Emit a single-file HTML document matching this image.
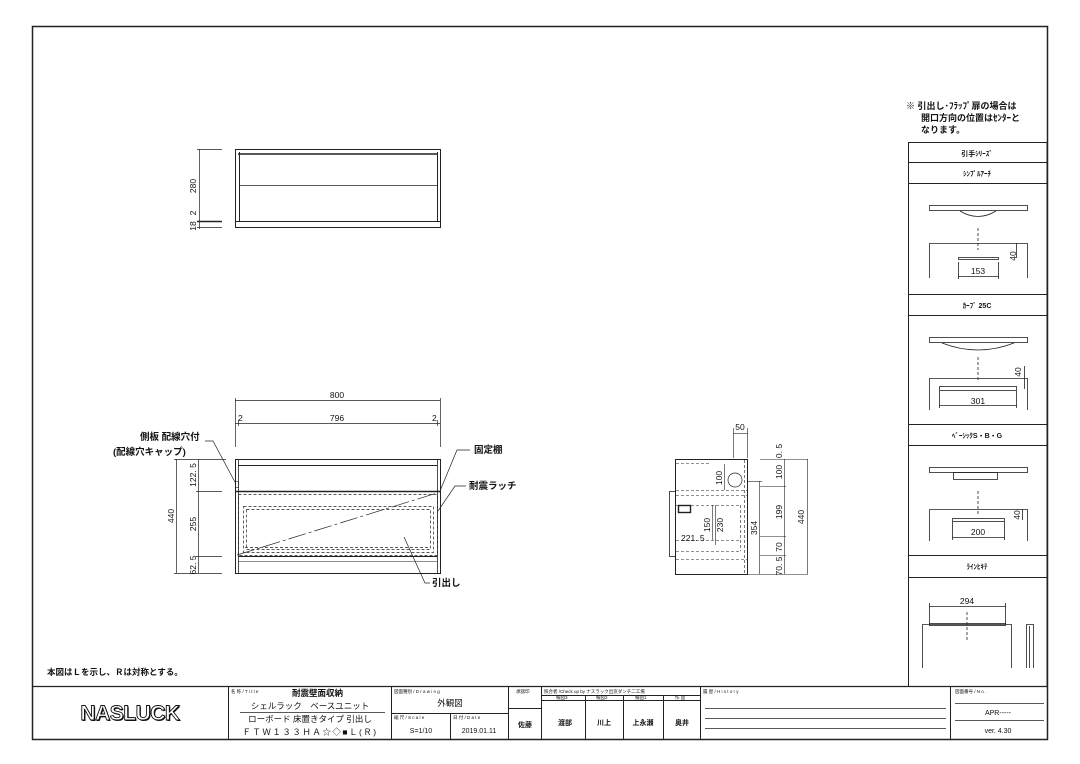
<!DOCTYPE html>
<html><head><meta charset="utf-8"><style>
body{margin:0;background:#fff}
svg{display:block}
text{font-family:"Liberation Sans","Noto Sans CJK JP",sans-serif;fill:#111}
.b{font-weight:bold}
</style></head><body>
<svg width="1080" height="764" viewBox="0 0 1080 764" xmlns="http://www.w3.org/2000/svg">
<g fill="none" stroke="#222" stroke-width="1">
<rect x="32.5" y="26.5" width="1015" height="713" stroke-width="1.5"/>
<line x1="32" y1="686.5" x2="1047" y2="686.5" stroke-width="1.3"/>
<line x1="228.5" y1="686" x2="228.5" y2="740"/>
<line x1="391.5" y1="686" x2="391.5" y2="740"/>
<line x1="508.5" y1="686" x2="508.5" y2="740"/>
<line x1="541.5" y1="686" x2="541.5" y2="740"/>
<line x1="700.5" y1="686" x2="700.5" y2="740"/>
<line x1="950.5" y1="686" x2="950.5" y2="740"/>
<line x1="240" y1="712.5" x2="385" y2="712.5" stroke-width="0.8"/>
<line x1="391" y1="713.5" x2="508" y2="713.5"/>
<line x1="450.5" y1="713" x2="450.5" y2="740"/>
<line x1="508" y1="708.5" x2="541" y2="708.5"/>
<line x1="541" y1="695.5" x2="700" y2="695.5"/>
<line x1="541" y1="700.5" x2="700" y2="700.5"/>
<line x1="585.5" y1="695" x2="585.5" y2="740"/>
<line x1="623.5" y1="695" x2="623.5" y2="740"/>
<line x1="663.5" y1="695" x2="663.5" y2="740"/>
<line x1="705" y1="708.5" x2="946" y2="708.5" stroke-width="0.7"/>
<line x1="705" y1="718.5" x2="946" y2="718.5" stroke-width="0.7"/>
<line x1="705" y1="728.5" x2="946" y2="728.5" stroke-width="0.7"/>
<line x1="955" y1="703.5" x2="1044" y2="703.5" stroke-width="0.7"/>
<line x1="955" y1="720.5" x2="1044" y2="720.5" stroke-width="0.7"/>

<rect x="908.5" y="142.5" width="138.5" height="544"/>
<line x1="908" y1="162.5" x2="1047" y2="162.5"/>
<line x1="908" y1="183.5" x2="1047" y2="183.5"/>
<line x1="908" y1="294.5" x2="1047" y2="294.5"/>
<line x1="908" y1="315.5" x2="1047" y2="315.5"/>
<line x1="908" y1="424.5" x2="1047" y2="424.5"/>
<line x1="908" y1="445.5" x2="1047" y2="445.5"/>
<line x1="908" y1="555.5" x2="1047" y2="555.5"/>
<line x1="908" y1="577.5" x2="1047" y2="577.5"/>
<g stroke-width="0.8">
<rect x="929.5" y="205.5" width="98" height="5"/>
<path d="M960 211 Q978 222 996 211"/>
<line x1="978" y1="228" x2="978" y2="250" stroke-dasharray="3 2"/>
<path d="M929.5 278 V243.5 H1027.5 V278"/>
<rect x="958.5" y="257.5" width="40" height="2"/>
<line x1="958" y1="276.5" x2="999" y2="276.5"/><line x1="958.5" y1="262" x2="958.5" y2="279"/><line x1="998.5" y1="262" x2="998.5" y2="279"/>
<line x1="1016.5" y1="243" x2="1016.5" y2="258"/>
<rect x="929.5" y="337.5" width="98" height="5"/>
<path d="M942 343 Q978 357 1014 343"/>
<line x1="978" y1="357" x2="978" y2="380" stroke-dasharray="3 2"/>
<path d="M929.5 410 V378.5 H1027.5 V410"/>
<rect x="939.5" y="386.5" width="77" height="4"/>
<line x1="939" y1="405.5" x2="1017" y2="405.5"/><line x1="939.5" y1="391" x2="939.5" y2="408"/><line x1="1016.5" y1="391" x2="1016.5" y2="408"/>
<line x1="1024.5" y1="366" x2="1024.5" y2="389"/>
<rect x="929.5" y="467.5" width="98" height="5"/>
<rect x="953.5" y="472.5" width="44" height="7"/>
<line x1="978" y1="491" x2="978" y2="515" stroke-dasharray="3 2"/>
<path d="M929.5 541 V509.5 H1027.5 V541"/>
<rect x="952.5" y="518.5" width="52" height="3"/>
<line x1="952" y1="537.5" x2="1005" y2="537.5"/><line x1="952.5" y1="522" x2="952.5" y2="540"/><line x1="1004.5" y1="522" x2="1004.5" y2="540"/>
<line x1="1022.5" y1="509" x2="1022.5" y2="520"/>
<line x1="929" y1="606.5" x2="1006" y2="606.5"/><line x1="929.5" y1="603" x2="929.5" y2="624"/><line x1="1005.5" y1="603" x2="1005.5" y2="624"/>
<line x1="967" y1="612" x2="967" y2="640" stroke-dasharray="3 2"/>
<path d="M922.5 668 V624.5 H1011.5 V668"/>
<rect x="929.5" y="623.5" width="76" height="2"/>
<path d="M1026.5 668 V624.5 H1033.5 V668 M1029.5 626 V668"/>
</g>

<rect x="235.5" y="149.5" width="205" height="78"/>
<line x1="238" y1="154" x2="438" y2="154" stroke-width="1.6"/>
<line x1="239.5" y1="152" x2="239.5" y2="222"/>
<line x1="437.5" y1="152" x2="437.5" y2="222"/>
<line x1="239" y1="185.5" x2="437" y2="185.5" stroke-width="0.8"/>
<line x1="235" y1="221.5" x2="440" y2="221.5"/>
<g stroke-width="0.7">
<line x1="199.5" y1="149" x2="199.5" y2="229"/>
<line x1="197" y1="149.5" x2="222" y2="149.5"/>
<line x1="197" y1="221.5" x2="222" y2="221.5" stroke-width="1.5"/>
<line x1="197" y1="227.5" x2="222" y2="227.5"/>
</g>

<rect x="235.5" y="459.5" width="205" height="114"/>
<line x1="238.5" y1="459" x2="238.5" y2="573" stroke-width="0.8"/>
<line x1="437.5" y1="459" x2="437.5" y2="573" stroke-width="0.8"/>
<line x1="238" y1="465.5" x2="437" y2="465.5"/>
<line x1="235" y1="491.5" x2="440" y2="491.5" stroke-width="1.6"/>
<line x1="238" y1="556.5" x2="437" y2="556.5"/>
<line x1="238" y1="561.5" x2="437" y2="561.5" stroke-width="0.6"/>
<g stroke-dasharray="3 2" stroke-width="0.7">
<rect x="238.5" y="494.5" width="199" height="61"/>
<rect x="243.5" y="506.5" width="190" height="46"/>
<rect x="246.5" y="509.5" width="184" height="40"/>
<line x1="245" y1="547.5" x2="430" y2="547.5"/>
</g>
<line x1="237" y1="555" x2="437" y2="493" stroke-width="0.7" stroke-dasharray="18 3 3 3"/>
<rect x="235.5" y="481.5" width="3" height="6" stroke-width="0.6"/>
<g stroke-width="0.7">
<line x1="235" y1="400.5" x2="440" y2="400.5"/>
<line x1="235" y1="423.5" x2="440" y2="423.5"/>
<line x1="235.5" y1="398" x2="235.5" y2="447"/>
<line x1="440.5" y1="398" x2="440.5" y2="447"/>
<line x1="238.5" y1="420" x2="238.5" y2="426"/>
<line x1="437.5" y1="420" x2="437.5" y2="426"/>
<line x1="176.5" y1="459" x2="176.5" y2="573"/>
<line x1="198.5" y1="459" x2="198.5" y2="573"/>
<line x1="174" y1="459.5" x2="226" y2="459.5"/>
<line x1="196" y1="491.5" x2="222" y2="491.5"/>
<line x1="196" y1="556.5" x2="222" y2="556.5"/>
<line x1="174" y1="573.5" x2="222" y2="573.5"/>
<path d="M205 441 L213 441 L236 484"/>
<path d="M470 450 L457 450 L440 491"/>
<path d="M466 486 L455 486 L438 511"/>
<path d="M404 537 L425 583 L430 583"/>
</g>

<rect x="675.5" y="459.5" width="72" height="115"/>
<rect x="669.5" y="491.5" width="6" height="65" stroke-width="0.8"/>
<rect x="678.5" y="505.5" width="12" height="7" stroke-width="1.4"/>
<circle cx="735" cy="480" r="7" stroke-width="0.7"/>
<g stroke-width="0.6" stroke-dasharray="3 2">
<line x1="676" y1="463.5" x2="711" y2="463.5"/>
<line x1="676" y1="490.5" x2="747" y2="490.5"/>
<line x1="676" y1="495.5" x2="747" y2="495.5"/>
<line x1="676" y1="505.5" x2="740" y2="505.5"/>
<line x1="740.5" y1="505" x2="740.5" y2="551"/>
<line x1="744.5" y1="460" x2="744.5" y2="574"/>
<line x1="676" y1="540.5" x2="740" y2="540.5"/>
<line x1="676" y1="551.5" x2="740" y2="551.5"/>
<line x1="676" y1="559.5" x2="747" y2="559.5"/>
</g>
<g stroke-width="0.6">
<line x1="724.5" y1="464" x2="724.5" y2="490"/>
<line x1="712.5" y1="505" x2="712.5" y2="540"/>
<line x1="715.5" y1="505" x2="715.5" y2="545"/>
<line x1="733.5" y1="428" x2="733.5" y2="458"/>
<line x1="747.5" y1="428" x2="747.5" y2="458"/>
<line x1="733" y1="433.5" x2="748" y2="433.5"/>
<line x1="759.5" y1="481" x2="759.5" y2="574"/>
<line x1="784.5" y1="459" x2="784.5" y2="574"/>
<line x1="807.5" y1="459" x2="807.5" y2="574"/>
<line x1="760" y1="459.5" x2="808" y2="459.5"/>
<line x1="748" y1="481.5" x2="762" y2="481.5"/>
<line x1="760" y1="486.5" x2="786" y2="486.5"/>
<line x1="760" y1="536.5" x2="786" y2="536.5"/>
<line x1="760" y1="555.5" x2="786" y2="555.5"/>
<line x1="748" y1="574.5" x2="808" y2="574.5"/>
</g>
</g>

<g font-size="8.5" class="b">
<text x="906" y="109" font-size="9">※ 引出し･ﾌﾗｯﾌﾟ扉の場合は</text>
<text x="921" y="121" font-size="9">開口方向の位置はｾﾝﾀｰと</text>
<text x="921" y="133" font-size="9">なります。</text>
<text x="977" y="156" text-anchor="middle" font-size="7">引手ｼﾘｰｽﾞ</text>
<text x="977" y="176" text-anchor="middle" font-size="7">ｼﾝﾌﾟﾙｱｰﾁ</text>
<text x="977" y="308" text-anchor="middle" font-size="7">ｶｰﾌﾞ 25C</text>
<text x="977" y="438" text-anchor="middle" font-size="7">ﾍﾞｰｼｯｸS・B・G</text>
<text x="977" y="569" text-anchor="middle" font-size="7">ﾗｲﾝﾋｷﾃ</text>
<text x="978" y="274" text-anchor="middle" font-weight="normal">153</text>
<text x="978" y="404" text-anchor="middle" font-weight="normal">301</text>
<text x="978" y="535" text-anchor="middle" font-weight="normal">200</text>
<text x="967" y="604" text-anchor="middle" font-weight="normal">294</text>
<text transform="translate(1016,256) rotate(-90)" text-anchor="middle" font-weight="normal">40</text>
<text transform="translate(1021,372) rotate(-90)" text-anchor="middle" font-weight="normal">40</text>
<text transform="translate(1020,515) rotate(-90)" text-anchor="middle" font-weight="normal">40</text>

<g font-weight="normal">
<text transform="translate(196,186) rotate(-90)" text-anchor="middle">280</text>
<text transform="translate(196,213) rotate(-90)" text-anchor="middle">2</text>
<text transform="translate(196,226) rotate(-90)" text-anchor="middle">18</text>
<text x="337" y="398" text-anchor="middle">800</text>
<text x="337" y="421" text-anchor="middle">796</text>
<text x="238" y="421">2</text>
<text x="432" y="421">2</text>
<text transform="translate(174,516) rotate(-90)" text-anchor="middle">440</text>
<text transform="translate(196,475) rotate(-90)" text-anchor="middle">122. 5</text>
<text transform="translate(196,524) rotate(-90)" text-anchor="middle">255</text>
<text transform="translate(196,565) rotate(-90)" text-anchor="middle">62. 5</text>
<text x="740" y="430" text-anchor="middle">50</text>
<text transform="translate(722,478) rotate(-90)" text-anchor="middle">100</text>
<text transform="translate(710,525) rotate(-90)" text-anchor="middle">150</text>
<text transform="translate(723,525) rotate(-90)" text-anchor="middle">230</text>
<text x="681" y="541">221. 5</text>
<text transform="translate(757,528) rotate(-90)" text-anchor="middle">354</text>
<text transform="translate(782,451) rotate(-90)" text-anchor="middle">0. 5</text>
<text transform="translate(782,472) rotate(-90)" text-anchor="middle">100</text>
<text transform="translate(782,512) rotate(-90)" text-anchor="middle">199</text>
<text transform="translate(782,547) rotate(-90)" text-anchor="middle">70</text>
<text transform="translate(782,566) rotate(-90)" text-anchor="middle">70. 5</text>
<text transform="translate(804,517) rotate(-90)" text-anchor="middle">440</text>
</g>
<text x="140" y="440" font-size="9.5">側板 配線穴付</text>
<text x="113" y="455" font-size="9.5">(配線穴キャップ)</text>
<text x="474" y="453" font-size="9.5">固定棚</text>
<text x="469" y="489" font-size="9.5">耐震ラッチ</text>
<text x="432" y="586" font-size="9.5">引出し</text>
<text x="47" y="675" font-size="8.5">本図はＬを示し、Ｒは対称とする。</text>
</g>

<text x="131" y="721" text-anchor="middle" font-size="21" font-weight="bold" letter-spacing="-0.5">NASLUCK</text>
<text x="130" y="720" text-anchor="middle" font-size="21" font-weight="bold" style="fill:#fff;stroke:#111;stroke-width:0.9" letter-spacing="-0.5">NASLUCK</text>
<g font-size="4.5"><text x="231" y="693">名 称 / T i t l e</text><text x="394" y="693">図面種別 / D r a w i n g</text><text x="394" y="719">縮 尺 / S c a l e</text><text x="453" y="719">日 付 / D a t e</text><text x="516" y="693">承認印</text><text x="544" y="693">照合者 /Check up by ナスラック出窓ダンチ二工場</text><text x="703" y="693">履 歴 / H i s t o r y</text><text x="955" y="693">図面番号 / N o .</text><text x="556" y="699">検図3</text><text x="596" y="699">検図2</text><text x="635" y="699">検図1</text><text x="675" y="699">作 図</text></g>
<g font-size="8.5" class="b">
<text x="292" y="696">耐震壁面収納</text>
<text x="310" y="709" text-anchor="middle" font-weight="normal">シェルラック　ベースユニット</text>
<text x="310" y="722" text-anchor="middle" font-weight="normal">ローボード 床置きタイプ 引出し</text>
<text x="310" y="735" text-anchor="middle" font-weight="normal" letter-spacing="1.5">ＦＴＷ１３３ＨＡ☆◇■Ｌ(Ｒ)</text>
<text x="450" y="706" text-anchor="middle" font-weight="normal">外観図</text>
<text x="421" y="733" text-anchor="middle" font-size="7" font-weight="normal">S=1/10</text>
<text x="479" y="733" text-anchor="middle" font-size="7" font-weight="normal">2019.01.11</text>
<text x="525" y="727" text-anchor="middle" font-size="7">佐藤</text>
<text x="565" y="725" text-anchor="middle" font-size="7">渡部</text>
<text x="604" y="725" text-anchor="middle" font-size="7">川上</text>
<text x="643" y="725" text-anchor="middle" font-size="7">上永瀬</text>
<text x="682" y="725" text-anchor="middle" font-size="7">奥井</text>
<text x="998" y="715" text-anchor="middle" font-size="7" font-weight="normal">APR-----</text>
<text x="998" y="733" text-anchor="middle" font-size="7" font-weight="normal">ver. 4.30</text>
</g>
</svg>
</body></html>
